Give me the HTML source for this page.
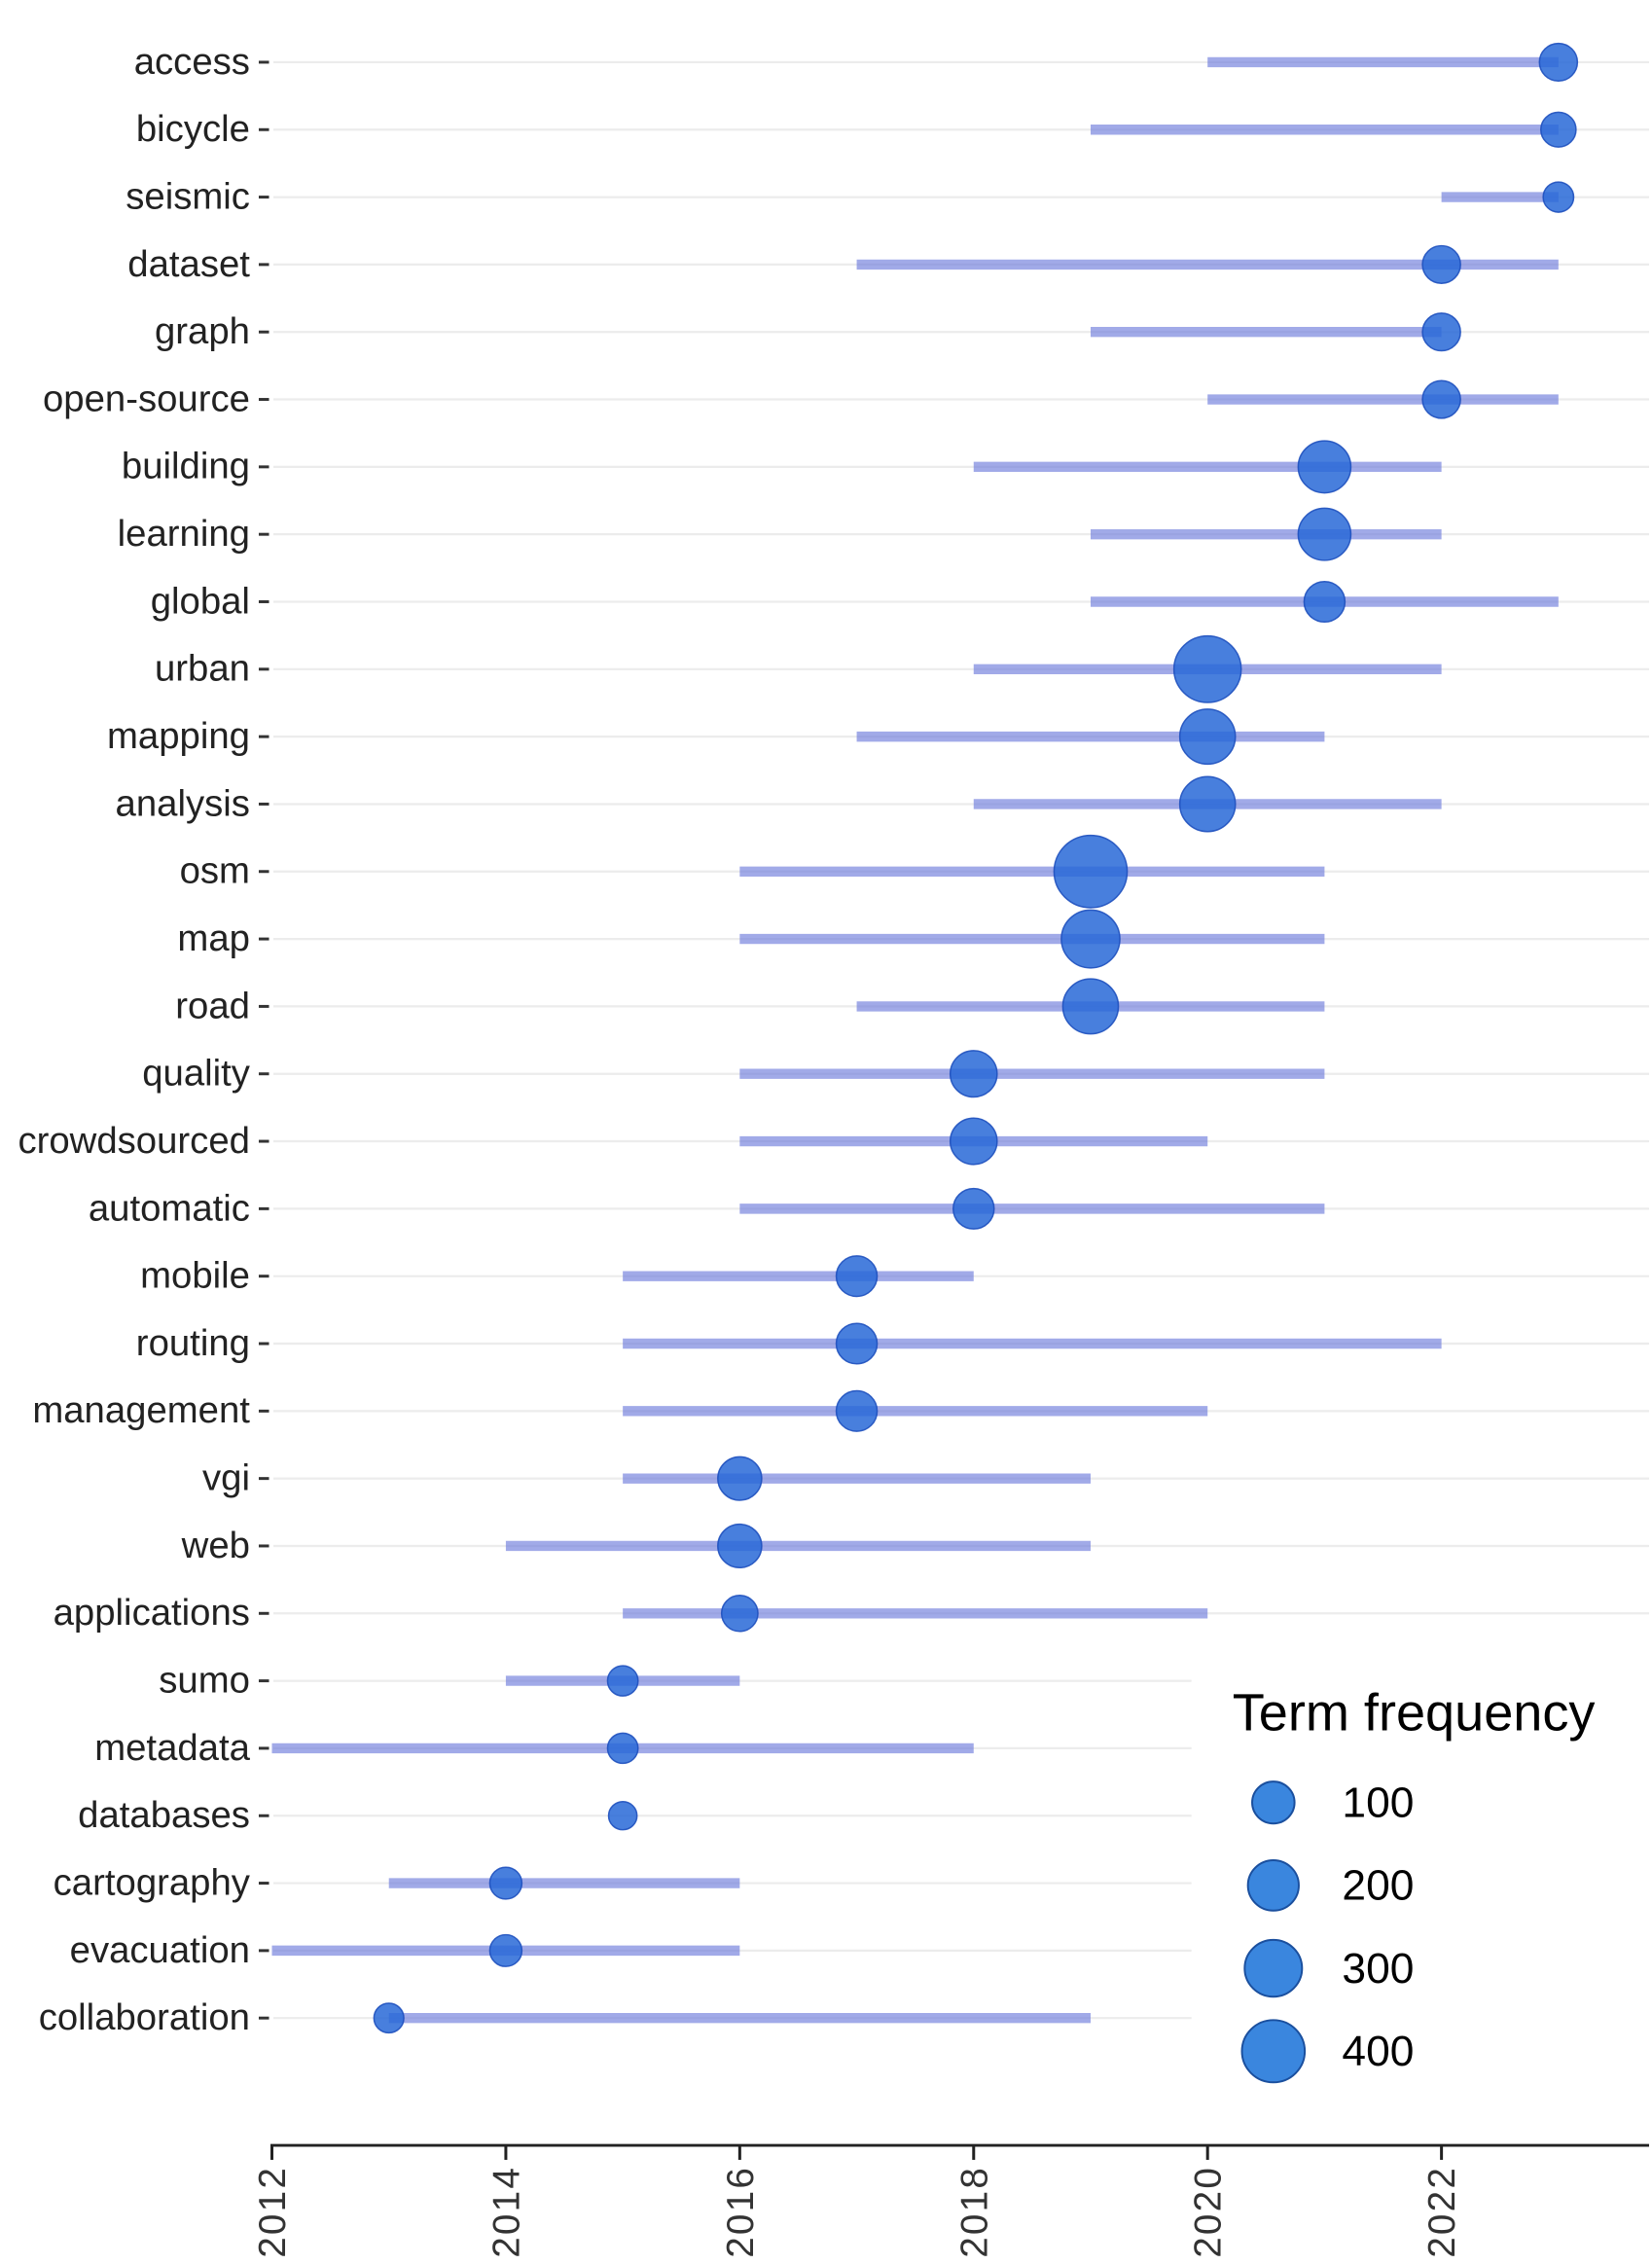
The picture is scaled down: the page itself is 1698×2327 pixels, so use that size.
<!DOCTYPE html>
<html><head><meta charset="utf-8"><style>
html,body{margin:0;padding:0;background:#fff;}
svg{display:block;}
text{font-family:"Liberation Sans",sans-serif;}
</style></head><body>
<svg id="chart" width="1698" height="2327" viewBox="0 0 1130 1565" preserveAspectRatio="none" xmlns="http://www.w3.org/2000/svg">
<g id="grid"></g>
<g id="segs"></g>
<g id="dots"></g>
<g id="ylab"></g>
<g id="xaxis"></g>
<g id="legend"></g>
</svg>
<script>
const terms = ["access","bicycle","seismic","dataset","graph","open-source","building","learning","global","urban","mapping","analysis","osm","map","road","quality","crowdsourced","automatic","mobile","routing","management","vgi","web","applications","sumo","metadata","databases","cartography","evacuation","collaboration"];
const startYears = [2020,2019,2022,2017,2019,2020,2018,2019,2019,2018,2017,2018,2016,2016,2017,2016,2016,2016,2015,2015,2015,2015,2014,2015,2014,2012,2015,2013,2012,2013];
const peakYears  = [2023,2023,2023,2022,2022,2022,2021,2021,2021,2020,2020,2020,2019,2019,2019,2018,2018,2018,2017,2017,2017,2016,2016,2016,2015,2015,2015,2014,2014,2013];
const endYears   = [2023,2023,2023,2023,2022,2023,2022,2022,2023,2022,2021,2022,2021,2021,2021,2021,2020,2021,2018,2022,2020,2019,2019,2020,2016,2018,2015,2016,2016,2019];
const freqs      = [51,33,12,51,51,51,204,204,73,459,247,247,590,294,247,131,131,73,73,73,73,100,100,40,12,12,6,18,18,10];
const xTicks = [2012,2014,2016,2018,2020,2022];
const legendVals = [100,200,300,400];

const NS="http://www.w3.org/2000/svg";
const x = y => 186 + (y-2012)*80;
const yPos = i => 43 + i*46.62;
const rad = f => 8 + 0.7*Math.sqrt(f);
function mk(tag, attrs, parent){const e=document.createElementNS(NS,tag);for(const k in attrs)e.setAttribute(k,attrs[k]);parent.appendChild(e);return e;}
const G=id=>document.getElementById(id);

terms.forEach((t,i)=>{
  const y=yPos(i);
  const gl = mk('line',{x1:187,x2:(y>1140&&y<1460)?815:1128,y1:y,y2:y,stroke:'#ececec','stroke-width':1.5},G('grid'));
  
  
  const s = mk('line',{x1:x(startYears[i]),x2:x(endYears[i]),y1:y,y2:y,stroke:'rgba(110,125,220,0.65)','stroke-width':7},G('segs'));
  
  
  const c = mk('circle',{cx:x(peakYears[i]),cy:y,r:rad(freqs[i]),fill:'rgba(40,105,215,0.85)',stroke:'rgba(30,80,190,0.9)','stroke-width':1},G('dots'));
  
  
  const l = mk('text',{x:171,y:y+8,'text-anchor':'end','font-size':25.5,fill:'#222'},G('ylab'));
  l.textContent=t;
  
  
  const tk = mk('line',{x1:177,x2:184,y1:y,y2:y,stroke:'#333','stroke-width':2},G('ylab'));
  
  
});

const ax = mk('line',{x1:185,x2:1128,y1:1483,y2:1483,stroke:'#222','stroke-width':2},G('xaxis'));


xTicks.forEach(v=>{
  const tk=mk('line',{x1:x(v),x2:x(v),y1:1483,y2:1493,stroke:'#222','stroke-width':2},G('xaxis'));
  
  
  const tx=mk('text',{x:0,y:0,'text-anchor':'end','font-size':26,fill:'#333','letter-spacing':1.5,transform:`translate(${x(v)+9},1497) rotate(-90)`},G('xaxis'));
  tx.textContent=v;
  
  
});

const lt = mk('text',{x:843,y:1196,'font-size':36,fill:'#000'},G('legend'));
lt.textContent='Term frequency';


legendVals.forEach((v,k)=>{
  const cy=1246+k*57.3;
  const c=mk('circle',{cx:871,cy:cy,r:rad(v)-0.5,fill:'#3a86de',stroke:'#1a4f9e','stroke-width':1.3},G('legend'));
  
  
  const t=mk('text',{x:918,y:cy+10,'font-size':29.5,fill:'#000'},G('legend'));
  t.textContent=v;
  
  
});
</script>
</body></html>
